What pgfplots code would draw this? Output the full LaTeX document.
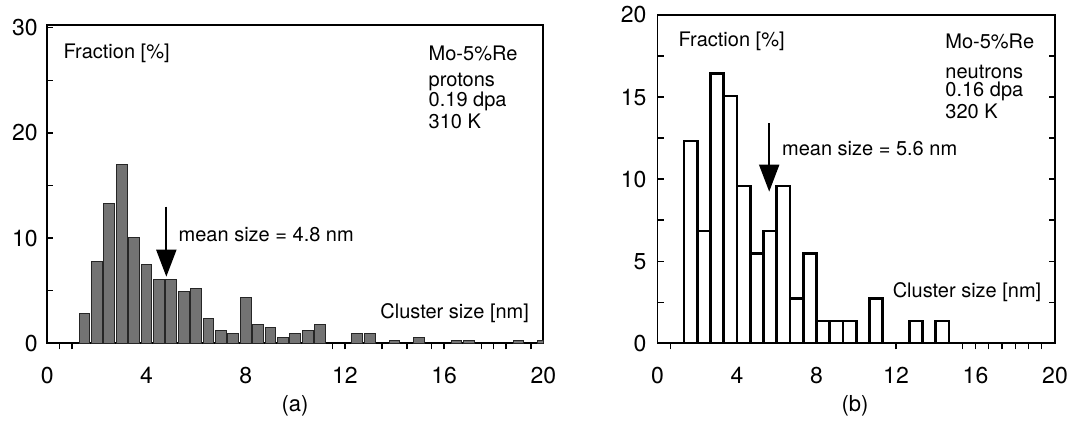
\documentclass[border=0pt]{standalone}
\usepackage{fontspec}
\setmainfont{TeX Gyre Heros}
\usepackage{pgfplots}
\pgfplotsset{compat=1.18}
\usetikzlibrary{arrows.meta}
\begin{document}
\begin{tikzpicture}[font=\fontsize{10}{12}\selectfont]
\useasboundingbox (0,0) rectangle (536pt,-212.5pt);
\pgfplotsset{
  common/.style={
    scale only axis, xmin=0, xmax=20, ymin=0,
    tick align=inside, xtick={0,4,...,20}, xtick pos=bottom,
    major x tick style={draw=none},
    /pgf/number format/assume math mode=true,
    ticklabel style={font=\fontsize{11.5}{13}\selectfont},
    xticklabel style={yshift=-5.5pt},
    major tick length=3pt, minor tick length=3pt,
    axis line style={line width=0.9pt},
    tick style={line width=0.7pt, black},
    ybar, clip=true,
  }
}
% ---------------- panel (a)
\begin{axis}[common, at={(23.65pt,-171.65pt)}, anchor=south west,
  width=248pt, height=159.15pt, ymax=30.25,
  ytick={0,10,20,30}, minor ytick={5,15,25}, ytick pos=left,
  yticklabel style={xshift=-1.3pt},
  minor xtick={0.5,1,11.5,12,13.5,14.5,15.5,16,17.5,18,18.5,19.5},
  bar width=0.44]
\addplot[fill=black!55, draw=black!85, line width=0.5pt] coordinates {
(1.5,2.87) (2.0,7.78) (2.5,13.26) (3.0,17.03) (3.5,10.06) (4.0,7.53)
(4.5,6.1) (5.0,6.1) (5.5,4.93) (6.0,5.24) (6.5,2.33) (7.0,1.22)
(7.5,0.97) (8.0,4.39) (8.5,1.76) (9.0,1.5) (9.5,0.59) (10.0,0.9)
(10.5,1.19) (11.0,1.76) (12.5,0.97) (13.0,0.97) (14.0,0.3) (15.0,0.55)
(16.5,0.3) (17.0,0.3) (19.0,0.3) (20.0,0.3)};
\draw[line width=1pt, -{Triangle[width=10pt,length=13.5pt]}] (axis cs:4.8,13.0) -- (axis cs:4.8,6.33);
\end{axis}
% ---------------- panel (b)
\begin{axis}[common, at={(328.75pt,-171.65pt)}, anchor=south west,
  width=198.75pt, height=164.15pt, ymax=20,
  ytick={0,5,10,15,20}, minor ytick={2.5,7.5,12.5,17.5}, ytick pos=both,
  yticklabel style={xshift=-2pt},
  minor xtick={0.6667,12,15.3333,16,16.6667,17.3333,18,18.6667,19.3333},
  bar width=0.6667]
\addplot[fill=white, draw=black, line width=1.3pt] coordinates {
(1.6667,12.33) (2.3333,6.85) (3.0,16.44) (3.6667,15.07) (4.3333,9.59)
(5.0,5.48) (5.6667,6.85) (6.3333,9.59) (7.0,2.74) (7.6667,5.48)
(8.3333,1.37) (9.0,1.37) (9.6667,1.37) (11.0,2.74) (13.0,1.37) (14.3333,1.37)};
\draw[line width=1pt, -{Triangle[width=10pt,length=13.5pt]}] (axis cs:5.62,13.41) -- (axis cs:5.62,9.24);
\end{axis}
% ---------------- annotations (a)
\node[anchor=west, inner sep=0pt] at (31.65pt,-26.65pt) {Fraction [\%]};
\node[anchor=west, inner sep=0pt] at (214.15pt,-26.65pt) {Mo-5\%Re};
\node[anchor=west, inner sep=0pt] at (214.15pt,-40.85pt) {protons};
\node[anchor=west, inner sep=0pt] at (214.15pt,-50.85pt) {0.19 dpa};
\node[anchor=west, inner sep=0pt] at (214.15pt,-60.85pt) {310 K};
\node[anchor=west, inner sep=0pt] at (89.15pt,-117.5pt) {mean size = 4.8 nm};
\node[anchor=east, inner sep=0pt] at (264.65pt,-156.65pt) {Cluster size [nm]};
\node[font=\fontsize{11}{13}\selectfont] at (147.5pt,-203pt) {(a)};
% ---------------- annotations (b)
\node[anchor=west, inner sep=0pt] at (339.15pt,-20.85pt) {Fraction [\%]};
\node[anchor=west, inner sep=0pt] at (472.5pt,-20.85pt) {Mo-5\%Re};
\node[anchor=west, inner sep=0pt] at (472.5pt,-35.85pt) {neutrons};
\node[anchor=west, inner sep=0pt] at (472.5pt,-45.85pt) {0.16 dpa};
\node[anchor=west, inner sep=0pt] at (472.5pt,-55.85pt) {320 K};
\node[anchor=west, inner sep=0pt] at (390.85pt,-74.15pt) {mean size = 5.6 nm};
\node[anchor=east, inner sep=0pt] at (520.85pt,-145.85pt) {Cluster size [nm]};
\node[font=\fontsize{11}{13}\selectfont] at (427.5pt,-203pt) {(b)};
\end{tikzpicture}
\end{document}
